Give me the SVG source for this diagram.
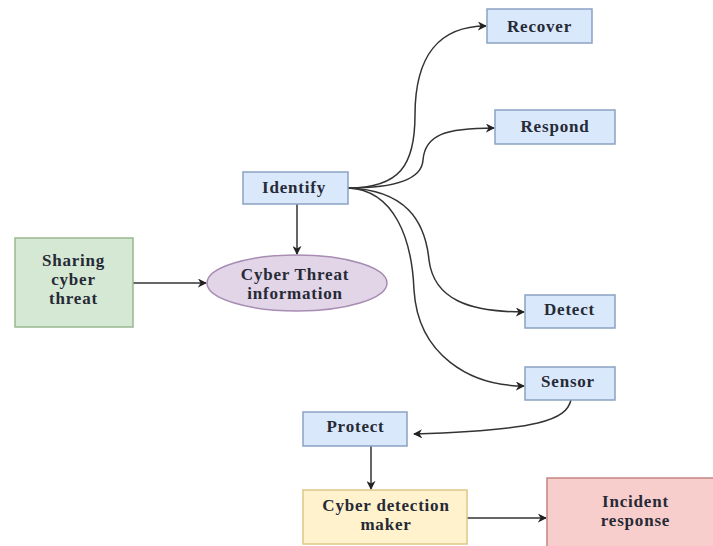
<svg xmlns="http://www.w3.org/2000/svg" width="713" height="546" viewBox="0 0 713 546">
<style>
.t{font-family:"Liberation Serif","Times New Roman",serif;font-weight:bold;font-size:17px;letter-spacing:0.8px;fill:#262a36;text-anchor:middle}
.blue{fill:#dae8fc;stroke:#8aa2c4;stroke-width:1.5}
.green{fill:#d5e8d4;stroke:#9ab890;stroke-width:1.5}
.purple{fill:#e1d5e7;stroke:#a88cb3;stroke-width:1.5}
.yellow{fill:#fff2cc;stroke:#dcc786;stroke-width:1.5}
.red{fill:#f8cecc;stroke:#c48583;stroke-width:1.5}
.c{fill:none;stroke:#333;stroke-width:1.5}
</style>
<defs>
<marker id="a" viewBox="0 0 10 10" refX="9" refY="5" markerWidth="9" markerHeight="9" markerUnits="userSpaceOnUse" orient="auto">
<path d="M0,0 L10,5 L0,10 L3,5 Z" fill="#222"/>
</marker>
</defs>
<rect width="713" height="546" fill="#fff"/>
<g id="connectors">
<path class="c" marker-end="url(#a)" d="M348,188 C400,188 415,165 415,115 C415,55 440,26 486,26"/>
<path class="c" marker-end="url(#a)" d="M348,188 C400,188 422,178 423,160 C425,135 445,128 494,128"/>
<path class="c" marker-end="url(#a)" d="M348,188 C405,190 425,220 429,260 C434,300 470,312 524,312"/>
<path class="c" marker-end="url(#a)" d="M348,188 C395,190 412,240 414,290 C418,355 470,386 524,386"/>
<path class="c" marker-end="url(#a)" d="M571,400 C566,420 540,430 414,434"/>
<path class="c" marker-end="url(#a)" d="M297,204 L297,254"/>
<path class="c" marker-end="url(#a)" d="M133,283 L206,283"/>
<path class="c" marker-end="url(#a)" d="M371,446 L371,489"/>
<path class="c" marker-end="url(#a)" d="M467,518 L546,518"/>
</g>
<g id="recover"><rect class="blue" x="487" y="9" width="105" height="34"/><text class="t" x="539.5" y="32">Recover</text></g>
<g id="respond"><rect class="blue" x="495" y="110" width="120" height="34"/><text class="t" x="555" y="132">Respond</text></g>
<g id="identify"><rect class="blue" x="243" y="172" width="105" height="32"/><text class="t" x="294" y="193">Identify</text></g>
<g id="sharing"><rect class="green" x="15" y="238" width="118" height="89"/><text class="t" x="73.5" y="266">Sharing</text><text class="t" x="73.5" y="285">cyber</text><text class="t" x="73.5" y="304">threat</text></g>
<g id="cti"><ellipse class="purple" cx="297" cy="283" rx="90" ry="28"/><text class="t" x="295" y="280">Cyber Threat</text><text class="t" x="295" y="299">information</text></g>
<g id="detect"><rect class="blue" x="525" y="295" width="90" height="33"/><text class="t" x="569.5" y="315">Detect</text></g>
<g id="sensor"><rect class="blue" x="525" y="367" width="90" height="33"/><text class="t" x="568" y="387">Sensor</text></g>
<g id="protect"><rect class="blue" x="303" y="412" width="104" height="34"/><text class="t" x="355.5" y="432">Protect</text></g>
<g id="cdm"><rect class="yellow" x="303" y="490" width="164" height="54"/><text class="t" x="386" y="511">Cyber detection</text><text class="t" x="386" y="530">maker</text></g>
<g id="incident"><rect class="red" x="547" y="478" width="170" height="80"/><text class="t" x="635.5" y="507">Incident</text><text class="t" x="635.5" y="526">response</text></g>
</svg>
